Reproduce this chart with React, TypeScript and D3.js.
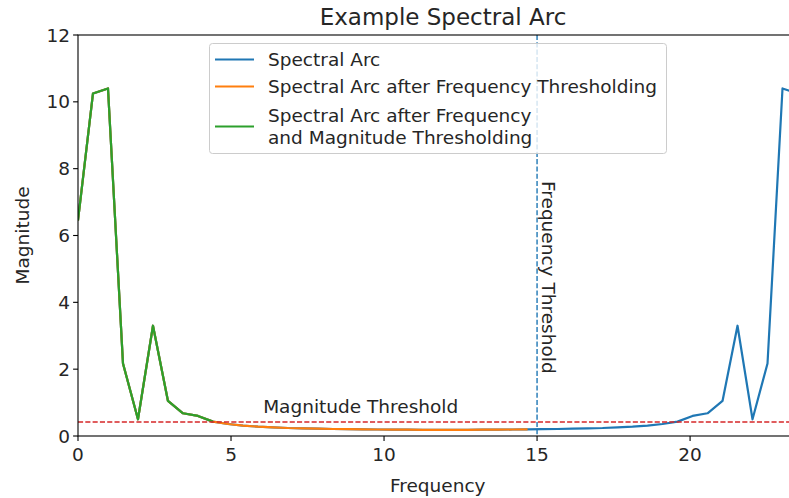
import React from "react";
import * as d3 from "d3";

const frequencies = [0, 0.49, 0.98, 1.47, 1.96, 2.45, 2.94, 3.43, 3.92, 4.41, 4.9, 5.39, 5.88, 6.37, 6.86, 7.35, 7.84, 8.33, 8.82, 9.31, 9.8, 10.29, 10.78, 11.27, 11.76, 12.24, 12.73, 13.22, 13.71, 14.2, 14.69, 15.18, 15.67, 16.16, 16.65, 17.14, 17.63, 18.12, 18.61, 19.1, 19.59, 20.08, 20.57, 21.06, 21.55, 22.04, 22.53, 23.02, 23.51];
const magnitudes = [6.45, 10.25, 10.4, 2.17, 0.5, 3.3, 1.05, 0.68, 0.6, 0.43, 0.36, 0.31, 0.28, 0.26, 0.24, 0.23, 0.22, 0.21, 0.205, 0.2, 0.195, 0.19, 0.19, 0.185, 0.185, 0.185, 0.185, 0.19, 0.19, 0.195, 0.2, 0.205, 0.21, 0.22, 0.23, 0.24, 0.26, 0.28, 0.31, 0.36, 0.43, 0.6, 0.68, 1.05, 3.3, 0.5, 2.17, 10.4, 10.25];
const freqThreshold = 15;
const magThreshold = 0.42;
const xTicks = [0, 5, 10, 15, 20];
const yTicks = [0, 2, 4, 6, 8, 10, 12];
const legendLabels = [
  ["Spectral Arc"],
  ["Spectral Arc after Frequency Thresholding"],
  ["Spectral Arc after Frequency", "and Magnitude Thresholding"],
];
const colors = ["#1f77b4", "#ff7f0e", "#2ca02c"];

export default function App() {
  const W = 789, H = 498;
  const left = 78, right = 797.5, top = 35, bottom = 436;
  const x = d3.scaleLinear().domain([0, 23.51]).range([left, right]);
  const y = d3.scaleLinear().domain([0, 12]).range([bottom, top]);
  const pts = frequencies.map((f, i) => [f, magnitudes[i]] as [number, number]);
  const orangePts = pts.filter((p) => p[0] <= freqThreshold);
  let firstBelow = orangePts.findIndex((p) => p[1] < magThreshold);
  if (firstBelow < 0) firstBelow = orangePts.length;
  const greenPts = orangePts.slice(0, firstBelow);
  const line = d3.line<[number, number]>().x((d) => x(d[0])).y((d) => y(d[1]));
  const font = "DejaVu Sans, sans-serif";
  const txt = "#262626";
  const lw = 2.2;
  const fs = 18.5;

  const lgX = 209.5, lgY = 43.5, lgW = 457, lgH = 110;
  const rowY = [59.5, 86.5, 126.5];

  return (
    <svg width={W} height={H} style={{ position: "absolute", left: 0, top: 0, display: "block", background: "#fff" }} fontFamily={font}>
      <defs>
        <clipPath id="plotclip">
          <rect x={left} y={top} width={right - left} height={bottom - top} />
        </clipPath>
      </defs>
      <rect x={0} y={0} width={W} height={H} fill="#fff" />
      <g clipPath="url(#plotclip)">
        <path d={line(pts) || ""} fill="none" stroke={colors[0]} strokeWidth={lw} strokeLinejoin="round" />
        <path d={line(orangePts) || ""} fill="none" stroke={colors[1]} strokeWidth={lw} strokeLinejoin="round" />
        <path d={line(greenPts) || ""} fill="none" stroke={colors[2]} strokeWidth={lw} strokeLinejoin="round" />
        <line x1={left} x2={right} y1={y(magThreshold)} y2={y(magThreshold)} stroke="#d62728" strokeWidth={1.4} strokeDasharray="5.1,2.2" />
        <line x1={x(freqThreshold)} x2={x(freqThreshold)} y1={top} y2={bottom} stroke={colors[0]} strokeWidth={1.4} strokeDasharray="5.1,2.2" />
      </g>
      <rect x={left} y={top} width={right - left} height={bottom - top} fill="none" stroke="#000" strokeWidth={1.1} />
      {xTicks.map((t) => (
        <g key={"x" + t}>
          <line x1={x(t)} x2={x(t)} y1={bottom} y2={bottom + 4.9} stroke="#000" strokeWidth={1.1} />
          <text x={x(t)} y={bottom + 18} textAnchor="middle" dominantBaseline="central" fontSize={fs} fill={txt}>{t}</text>
        </g>
      ))}
      {yTicks.map((t) => (
        <g key={"y" + t}>
          <line x1={left - 4.9} x2={left} y1={y(t)} y2={y(t)} stroke="#000" strokeWidth={1.1} />
          <text x={left - 8} y={y(t)} textAnchor="end" dominantBaseline="central" fontSize={fs} fill={txt}>{t}</text>
        </g>
      ))}
      <text x={(left + right) / 2} y={485} textAnchor="middle" dominantBaseline="central" fontSize={fs} fill={txt}>Frequency</text>
      <text transform={`translate(22,${(top + bottom) / 2}) rotate(-90)`} textAnchor="middle" dominantBaseline="central" fontSize={fs} fill={txt}>Magnitude</text>
      <text x={443} y={17} textAnchor="middle" dominantBaseline="central" fontSize={23} fill={txt}>Example Spectral Arc</text>
      <text x={x(6.05)} y={413} fontSize={fs} fill={txt}>Magnitude Threshold</text>
      <text transform={`translate(${x(freqThreshold) + 11},181) rotate(90)`} dominantBaseline="central" fontSize={fs} fill={txt}>Frequency Threshold</text>
      <rect x={lgX} y={lgY} width={lgW} height={lgH} rx={3} fill="#fff" fillOpacity={0.8} stroke="#cccccc" strokeWidth={1} />
      {legendLabels.map((lab, i) => (
        <g key={"lg" + i}>
          <line x1={215} x2={254} y1={rowY[i]} y2={rowY[i]} stroke={colors[i]} strokeWidth={lw} />
          {lab.map((s, j) => (
            <text key={j} x={268} y={rowY[i] + (j - (lab.length - 1) / 2) * 21.7} dominantBaseline="central" fontSize={fs} fill={txt}>{s}</text>
          ))}
        </g>
      ))}
    </svg>
  );
}
